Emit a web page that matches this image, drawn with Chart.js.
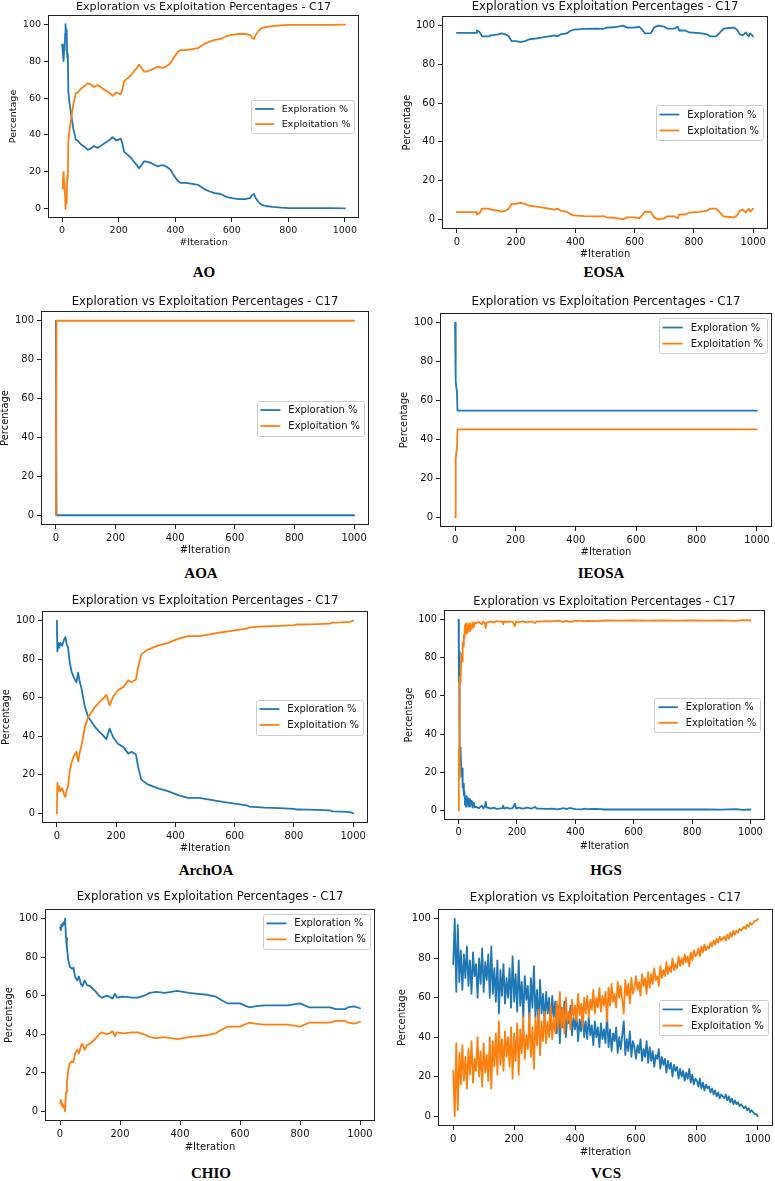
<!DOCTYPE html>
<html>
<head>
<meta charset="utf-8">
<script src="https://cdn.jsdelivr.net/npm/chart.js@4.4.1/dist/chart.umd.min.js"></script>
<style>
  html, body { margin: 0; padding: 0; background: #fff; }
  #page { position: relative; width: 775px; height: 1181px; overflow: hidden; background: #fff; }
  #page canvas { position: absolute; }
  .cap {
    position: absolute; transform: translate(-50%, -50%); white-space: nowrap;
    font-family: "Liberation Serif", "Times New Roman", serif; font-weight: bold; font-size: 15px; color: #000;
  }
</style>
</head>
<body>
<div id="page"></div>
<script>
const TITLE = 'Exploration vs Exploitation Percentages - C17';
const SERIES_NAMES = ['Exploration %', 'Exploitation %'];
const X_LABEL = '#Iteration';
const Y_LABEL = 'Percentage';
const xTicks = [0, 200, 400, 600, 800, 1000];
const yTicks = [0, 20, 40, 60, 80, 100];

// AO
const aoIter = [0, 3, 5, 7, 9, 11, 12, 14, 16, 18, 20, 22, 26, 30, 36, 40, 45, 48, 55, 66, 80, 90, 100, 113, 125, 136, 150, 160, 170, 178,
  185, 190, 200, 207, 212, 219, 230, 244, 254, 265, 272, 280, 290, 300, 313, 325, 337, 350, 360, 372, 384, 393, 402, 410, 419, 440, 460, 480, 495, 505,
  520, 540, 560, 580, 600, 625, 650, 665, 672, 678, 684, 695, 705, 720, 745, 775, 800, 850, 900, 950, 1000];
const aoExplore = [89, 84, 80, 86, 88, 95, 100, 93, 97, 82, 84, 63, 57.5, 53, 47, 43, 40, 37.5, 37, 35,
  33.5, 32, 32.5, 34, 33, 34, 35.5, 36.5, 37.5, 38.8, 38, 37, 37.5, 38, 36, 31, 29.5, 27.5, 25.5, 23.5,
  22, 23.5, 25.7, 25.5, 24.9, 24, 23, 23.5, 23.5, 22.5, 21, 18.5, 16.6, 15, 14, 14, 13.5, 13, 11.5, 10.5,
  9.5, 8.5, 8, 6.5, 5.8, 5.2, 5.3, 5.8, 7.5, 8, 6, 3.5, 2.2, 1.5, 1, 0.6, 0.4, 0.3, 0.4, 0.3, 0.2];
const aoExploit = [11, 16, 20, 14, 12, 5, 0, 7, 3, 18, 16, 37, 42.5, 47, 53, 57, 60, 62.5, 63, 65,
  66.5, 68, 67.5, 66, 67, 66, 64.5, 63.5, 62.5, 61.2, 62, 63, 62.5, 62, 64, 69, 70.5, 72.5, 74.5, 76.5,
  78, 76.5, 74.3, 74.5, 75.1, 76, 77, 76.5, 76.5, 77.5, 79, 81.5, 83.4, 85, 86, 86, 86.5, 87, 88.5, 89.5,
  90.5, 91.5, 92, 93.5, 94.2, 94.8, 94.7, 94.2, 92.5, 92, 94, 96.5, 97.8, 98.5, 99, 99.4, 99.6, 99.7, 99.6, 99.7, 99.8];

// EOSA
const eosaIter = [0, 65, 68, 75, 80, 85, 110, 115, 140, 150, 165, 175, 185, 200, 215, 230, 245, 270, 290, 310,
  330, 340, 350, 370, 385, 395, 430, 470, 495, 505, 530, 545, 560, 575, 600, 615, 625, 635, 655, 665,
  680, 700, 710, 735, 745, 750, 770, 785, 820, 845, 855, 875, 885, 900, 920, 935, 945, 955, 965, 975, 985, 990, 1000];
const eosaExplore = [96.3, 96.3, 97.5, 97, 96, 94.5, 94.5, 95, 95.5, 96, 95.5, 94.5, 92, 92, 91.5, 92, 93, 93.5, 94, 94.5,
  95, 94.5, 95.5, 96, 97.5, 98, 98.3, 98.5, 98.3, 99, 99.2, 99.5, 100, 99, 99, 99.5, 98, 96, 96.2, 99,
  100, 99.5, 98.5, 98.5, 99.5, 97.5, 97.5, 96.5, 96.2, 95.5, 94.5, 94.5, 96, 98.5, 98.8, 99, 98, 95.5, 95, 96.5, 94.5, 96, 94.5];
const eosaExploit = [3.7, 3.7, 2.5, 3, 4, 5.5, 5.5, 5, 4.5, 4, 4.5, 5.5, 8, 8, 8.5, 8, 7, 6.5, 6, 5.5,
  5, 5.5, 4.5, 4, 2.5, 2, 1.7, 1.5, 1.7, 1, 0.8, 0.5, 0, 1, 1, 0.5, 2, 4, 3.8, 1,
  0, 0.5, 1.5, 1.5, 0.5, 2.5, 2.5, 3.5, 3.8, 4.5, 5.5, 5.5, 4, 1.5, 1.2, 1, 2, 4.5, 5, 3.5, 5.5, 4, 5.5];

// AOA
const aoaIter = [0, 2, 1000];
const aoaExplore = [100, 0, 0];
const aoaExploit = [0, 100, 100];

// IEOSA
const ieosaIter = [0, 1, 2, 3, 5, 6, 8, 1000];
const ieosaExplore = [100, 87, 75, 70, 65.5, 65, 54.8, 54.8];
const ieosaExploit = [0, 13, 25, 30, 34.5, 35, 45.2, 45.2];

// ArchOA
const archIter = [0, 2, 5, 8, 12, 18, 24, 29, 33, 38, 43, 49, 57, 66, 72, 77, 83, 89, 95, 106,
  117, 128, 145, 156, 167, 178, 190, 207, 224, 241, 252, 267, 274, 285, 307, 341, 375, 409, 442, 480,
  520, 560, 600, 640, 650, 700, 750, 800, 810, 850, 900, 920, 930, 960, 990, 1000];
const archExplore = [100, 84, 88.5, 86, 88.5, 87, 90, 91.5, 88, 86, 79, 74, 70.5, 68, 73, 68.5, 65, 60, 55, 50,
  47.5, 45, 42, 40.5, 38.5, 44, 39.5, 36, 34.5, 31, 32, 30.5, 24.5, 17.5, 15, 13, 11.5, 9.5, 8, 8,
  7, 6, 5, 4.2, 3.5, 3, 2.7, 2.3, 2, 1.9, 1.7, 1.6, 1, 0.9, 0.6, 0];
const archExploit = [0, 16, 11.5, 14, 11.5, 13, 10, 8.5, 12, 14, 21, 26, 29.5, 32, 27, 31.5, 35, 40, 45, 50,
  52.5, 55, 58, 59.5, 61.5, 56, 60.5, 64, 65.5, 69, 68, 69.5, 75.5, 82.5, 85, 87, 88.5, 90.5, 92, 92,
  93, 94, 95, 95.8, 96.5, 97, 97.3, 97.7, 98, 98.1, 98.3, 98.4, 99, 99.1, 99.4, 100];

// HGS
const hgsIter = [0, 1, 2, 3, 4, 5, 6, 8, 10, 12, 14, 16, 18, 20, 22, 24, 26, 28, 30, 33, 36, 39, 42, 45, 48,
  52, 56, 60, 65, 70, 75, 80, 85, 90, 93, 96, 100, 110, 120, 130, 140, 150, 153, 156, 165, 175, 185,
  193, 197, 205, 220, 235, 250, 262, 268, 285, 300, 320, 340, 360, 370, 380, 400, 425, 430, 440, 470, 500,
  550, 600, 650, 700, 750, 800, 850, 900, 950, 975, 1000];
const hgsExplore = [100, 68, 83, 69, 30, 33, 25, 31, 18, 22, 12, 14, 8, 10, 3, 7, 2, 7.5, 3, 6.5, 2, 6, 3, 5, 1.5,
  4, 1.5, 2, 1.5, 1.2, 2, 2.5, 1, 2, 4.5, 1.5, 1.5, 1, 1.5, 0.8, 1, 1.2, 2.5, 1, 1.5, 1, 1.2,
  3.5, 1, 1.5, 1, 1.5, 1, 1.8, 1, 1, 0.8, 1, 0.6, 1.2, 0.7, 1.3, 0.7, 0.6, 1, 0.7, 0.8, 0.5,
  0.6, 0.5, 0.6, 0.5, 0.6, 0.5, 0.6, 0.4, 0.7, 0.3, 0.5];
const hgsExploit = [0, 32, 17, 31, 70, 67, 75, 69, 82, 78, 88, 86, 92, 90, 97, 93, 98, 92.5, 97, 93.5, 98, 94, 97, 95, 98.5,
  96, 98.5, 98, 98.5, 98.8, 98, 97.5, 99, 98, 95.5, 98.5, 98.5, 99, 98.5, 99.2, 99, 98.8, 97.5, 99, 98.5, 99, 98.8,
  96.5, 99, 98.5, 99, 98.5, 99, 98.2, 99, 99, 99.2, 99, 99.4, 98.8, 99.3, 98.7, 99.3, 99.4, 99, 99.3, 99.2, 99.5,
  99.4, 99.5, 99.4, 99.5, 99.4, 99.5, 99.4, 99.6, 99.3, 99.7, 99.5];

// CHIO
const chioIter = [0, 3, 5, 8, 11, 14, 17, 20, 23, 28, 33, 40, 45, 50, 57, 63, 70, 75, 82, 90,
  100, 110, 120, 130, 140, 155, 165, 175, 183, 190, 210, 240, 260, 280, 300, 320, 350, 370, 390, 410,
  430, 460, 490, 520, 540, 560, 600, 615, 630, 650, 680, 720, 760, 780, 800, 815, 830, 860, 900, 920, 950, 960, 980, 1000];
const chioExplore = [95.5, 94, 97, 96, 98, 97, 100, 90, 85, 78, 75, 74, 74.5, 70, 68, 70, 66, 65, 68, 65.5,
  65, 63.5, 62, 60, 59, 60, 59.5, 58.5, 61, 59, 59.5, 59, 59, 60, 61.5, 62, 61.5, 62, 62.5, 62,
  61.5, 61, 60.5, 59.5, 57.5, 56, 56, 55, 54, 54.5, 55, 55, 55, 55.5, 56, 55, 54, 54, 54, 53, 53, 54, 54.5, 53.5];
const chioExploit = [4.5, 6, 3, 4, 2, 3, 0, 10, 15, 22, 25, 26, 25.5, 30, 32, 30, 34, 35, 32, 34.5,
  35, 36.5, 38, 40, 41, 40, 40.5, 41.5, 39, 41, 40.5, 41, 41, 40, 38.5, 38, 38.5, 38, 37.5, 38,
  38.5, 39, 39.5, 40.5, 42.5, 44, 44, 45, 46, 45.5, 45, 45, 45, 44.5, 44, 45, 46, 46, 46, 47, 47, 46, 45.5, 46.5];

// VCS (one reading every 5 iterations)
const vcsIter = Array.from({ length: 201 }, (_, i) => i * 5);
const vcsExplore = [
  77, 100, 63, 97, 68, 84, 64, 82, 70, 86,
  66, 79, 62, 83, 71, 77, 60, 80, 67, 85,
  63, 78, 69, 82, 60, 86, 62, 75, 58, 79,
  52, 74, 61, 77, 57, 70, 60, 75, 55, 81,
  58, 72, 53, 79, 56, 68, 50, 71, 59, 66,
  48, 70, 55, 76, 50, 64, 46, 69, 52, 62,
  47, 63, 52, 60, 44, 61, 50, 58, 42, 56,
  37, 55, 45, 58, 40, 52, 47, 56, 41, 50,
  44, 52, 38, 49, 43, 55, 40, 48, 39, 50,
  41, 46, 36, 48, 40, 45, 35, 47, 39, 44,
  37, 52, 35, 44, 33, 42, 38, 45, 32, 40,
  34, 41, 48, 31, 39, 33, 43, 30, 38, 35,
  29, 36, 32, 39, 28, 34, 30, 38, 27, 35,
  28, 33, 25, 31, 29, 34, 24, 30, 26, 29,
  22, 28, 24, 27, 20, 26, 23, 25, 19, 24,
  20, 23, 18, 22, 19, 24, 17, 21, 16, 19,
  18, 15, 19, 14, 17, 13, 16, 14, 15, 12,
  14, 11, 13, 10, 12, 9, 11, 10, 9, 11,
  8, 10, 7, 9, 6, 8, 6, 7, 5, 6,
  5, 4, 5, 3, 4, 2, 3, 2, 1, 1,
  0];
const vcsExploit = [
  23, 0, 37, 3, 32, 16, 36, 18, 30, 14,
  34, 21, 38, 17, 29, 23, 40, 20, 33, 15,
  37, 22, 31, 18, 40, 14, 38, 25, 42, 21,
  48, 26, 39, 23, 43, 30, 40, 25, 45, 19,
  42, 28, 47, 21, 44, 32, 50, 29, 41, 34,
  52, 30, 45, 24, 50, 36, 54, 31, 48, 38,
  53, 37, 48, 40, 56, 39, 50, 42, 58, 44,
  63, 45, 55, 42, 60, 48, 53, 44, 59, 50,
  56, 48, 62, 51, 57, 45, 60, 52, 61, 50,
  59, 54, 64, 52, 60, 55, 65, 53, 61, 56,
  63, 48, 65, 56, 67, 58, 62, 55, 68, 60,
  66, 59, 52, 69, 61, 67, 57, 70, 62, 65,
  71, 64, 68, 61, 72, 66, 70, 62, 73, 65,
  72, 67, 75, 69, 71, 66, 76, 70, 74, 71,
  78, 72, 76, 73, 80, 74, 77, 75, 81, 76,
  80, 77, 82, 78, 81, 76, 83, 79, 84, 81,
  82, 85, 81, 86, 83, 87, 84, 86, 85, 88,
  86, 89, 87, 90, 88, 91, 89, 90, 91, 89,
  92, 90, 93, 91, 94, 92, 94, 93, 95, 94,
  95, 96, 95, 97, 96, 98, 97, 98, 99, 99,
  100];

// panel placement on the page (frame = left, top, right, bottom of the axes box)
const panels = [
  { name: 'AO', iter: aoIter, explore: aoExplore, exploit: aoExploit, legend: 'center right',
    frame: [48, 15, 359, 218], titleY: 7, yLabelX: 14, xLabelY: 243, capX: 204, capY: 272, ts: 11.2 },
  { name: 'EOSA', iter: eosaIter, explore: eosaExplore, exploit: eosaExploit, legend: 'center right',
    frame: [442, 16, 768, 229], titleY: 8, yLabelX: 407, xLabelY: 254, capX: 604, capY: 272, ts: 11.7 },
  { name: 'AOA', iter: aoaIter, explore: aoaExplore, exploit: aoaExploit, legend: 'center right',
    frame: [41, 311, 369, 525], titleY: 303, yLabelX: 5, xLabelY: 550, capX: 201, capY: 573, ts: 11.7 },
  { name: 'IEOSA', iter: ieosaIter, explore: ieosaExplore, exploit: ieosaExploit, legend: 'upper right',
    frame: [440, 313, 772, 527], titleY: 303, yLabelX: 404, xLabelY: 552, capX: 601, capY: 573, ts: 11.8 },
  { name: 'ArchOA', iter: archIter, explore: archExplore, exploit: archExploit, legend: 'center right',
    frame: [42, 611, 368, 823], titleY: 602, yLabelX: 6, xLabelY: 848, capX: 206, capY: 870, ts: 11.7 },
  { name: 'HGS', iter: hgsIter, explore: hgsExplore, exploit: hgsExploit, legend: 'center right',
    frame: [444, 610, 765, 820], titleY: 602, yLabelX: 409, xLabelY: 846, capX: 606, capY: 870, ts: 11.5 },
  { name: 'CHIO', iter: chioIter, explore: chioExplore, exploit: chioExploit, legend: 'upper right',
    frame: [45, 909, 375, 1121], titleY: 898, yLabelX: 9, xLabelY: 1147, capX: 211, capY: 1173, ts: 11.7 },
  { name: 'VCS', iter: vcsIter, explore: vcsExplore, exploit: vcsExploit, legend: 'center right',
    frame: [438, 909, 773, 1126], titleY: 899, yLabelX: 402, xLabelY: 1152, capX: 606, capY: 1173, ts: 11.9 }
];

const FONT = '"DejaVu Sans", sans-serif';
const INK = '#111111';
Chart.defaults.font.family = FONT;
Chart.defaults.color = INK;

// full box round the axes, like matplotlib spines
const framePlugin = {
  id: 'frame',
  afterDatasetsDraw(chart) {
    const { ctx, chartArea: a } = chart;
    ctx.save();
    ctx.strokeStyle = '#222222';
    ctx.lineWidth = 1;
    ctx.strokeRect(Math.round(a.left) + 0.5, Math.round(a.top) + 0.5,
      Math.round(a.right - a.left) - 1, Math.round(a.bottom - a.top) - 1);
    ctx.restore();
  }
};

// legend drawn inside the axes
const mplLegend = {
  id: 'mplLegend',
  afterDraw(chart, args, opts) {
    const { ctx, chartArea: a } = chart;
    const fs = opts.fontSize;
    const sets = chart.data.datasets;
    ctx.save();
    ctx.font = `${fs}px ${FONT}`;
    const textW = Math.max(...sets.map(d => ctx.measureText(d.label).width));
    const pad = 0.4 * fs, hl = 2 * fs, htp = 0.8 * fs, rowH = 1.1 * fs, gap = 0.5 * fs;
    const w = pad + hl + htp + textW + pad;
    const h = pad * 2 + rowH * sets.length + gap * (sets.length - 1);
    const x = a.right - 0.5 * fs - w;
    const y = opts.loc === 'upper right' ? a.top + 0.5 * fs : (a.top + a.bottom) / 2 - h / 2;
    ctx.fillStyle = 'rgba(255,255,255,0.8)';
    ctx.strokeStyle = '#cccccc';
    ctx.lineWidth = 1;
    ctx.beginPath();
    if (ctx.roundRect) ctx.roundRect(Math.round(x) + 0.5, Math.round(y) + 0.5, Math.round(w), Math.round(h), 2);
    else ctx.rect(Math.round(x) + 0.5, Math.round(y) + 0.5, Math.round(w), Math.round(h));
    ctx.fill();
    ctx.stroke();
    ctx.textBaseline = 'middle';
    ctx.textAlign = 'left';
    sets.forEach((d, i) => {
      const cy = y + pad + rowH / 2 + i * (rowH + gap);
      ctx.strokeStyle = d.borderColor;
      ctx.lineWidth = 1.8;
      ctx.beginPath();
      ctx.moveTo(x + pad, cy);
      ctx.lineTo(x + pad + hl, cy);
      ctx.stroke();
      ctx.fillStyle = INK;
      ctx.fillText(d.label, x + pad + hl + htp, cy + 0.5);
    });
    ctx.restore();
  }
};

const page = document.getElementById('page');

function buildPanel(p) {
  const tf = p.ts * 0.85;
  const lh = tf * 1.2;
  const titleH = p.ts * 1.2;
  const [l, t, r, b] = p.frame;
  const padRight = 8;
  const CL = Math.floor(p.yLabelX - lh / 2);
  const CT = Math.floor(p.titleY - titleH / 2);
  const CR = r + padRight;
  const CB = Math.ceil(p.xLabelY + lh / 2);
  const yW = l - CL;
  const xH = CB - b;

  const canvas = document.createElement('canvas');
  canvas.width = CR - CL;
  canvas.height = CB - CT;
  canvas.style.left = CL + 'px';
  canvas.style.top = CT + 'px';
  canvas.style.width = (CR - CL) + 'px';
  canvas.style.height = (CB - CT) + 'px';
  page.appendChild(canvas);

  const cap = document.createElement('div');
  cap.className = 'cap';
  cap.textContent = p.name;
  cap.style.left = p.capX + 'px';
  cap.style.top = p.capY + 'px';
  page.appendChild(cap);

  const tickOpts = { color: INK, font: { size: tf }, padding: 3, callback: v => String(v), maxRotation: 0, autoSkip: false };
  const gridOpts = { display: true, drawOnChartArea: false, drawTicks: true, tickLength: 4, color: '#222222', lineWidth: 1 };

  new Chart(canvas, {
    type: 'line',
    data: {
      datasets: [
        { label: SERIES_NAMES[0], data: p.iter.map((x, i) => ({ x, y: p.explore[i] })), borderColor: '#1f77b4', order: 1 },
        { label: SERIES_NAMES[1], data: p.iter.map((x, i) => ({ x, y: p.exploit[i] })), borderColor: '#ff7f0e', order: 0 }
      ]
    },
    options: {
      responsive: false,
      animation: false,
      events: [],
      elements: {
        point: { radius: 0 },
        line: { borderWidth: 1.8, tension: 0, fill: false, borderJoinStyle: 'round', borderCapStyle: 'round' }
      },
      layout: { padding: { left: 0, top: 0, right: padRight, bottom: 0 } },
      plugins: {
        legend: { display: false },
        tooltip: { enabled: false },
        title: {
          display: true, text: TITLE, fullSize: false, color: INK,
          font: { size: p.ts, weight: 'normal', lineHeight: 1.2 },
          padding: { top: 0, bottom: t - CT - titleH }
        },
        mplLegend: { loc: p.legend, fontSize: tf }
      },
      scales: {
        x: {
          type: 'linear', min: -50, max: 1050,
          afterBuildTicks: s => { s.ticks = xTicks.map(v => ({ value: v })); },
          afterFit: s => { s.height = xH; },
          ticks: tickOpts, grid: gridOpts, border: { display: false },
          title: { display: true, text: X_LABEL, color: INK, font: { size: tf, lineHeight: 1.2 },
            padding: { top: 0, bottom: CB - p.xLabelY - lh / 2 } }
        },
        y: {
          type: 'linear', min: -5, max: 105,
          afterBuildTicks: s => { s.ticks = yTicks.map(v => ({ value: v })); },
          afterFit: s => { s.width = yW; },
          ticks: tickOpts, grid: gridOpts, border: { display: false },
          title: { display: true, text: Y_LABEL, color: INK, font: { size: tf, lineHeight: 1.2 },
            padding: { top: p.yLabelX - CL - lh / 2, bottom: 0 } }
        }
      }
    },
    plugins: [framePlugin, mplLegend]
  });
}

panels.forEach(buildPanel);
</script>
</body>
</html>
